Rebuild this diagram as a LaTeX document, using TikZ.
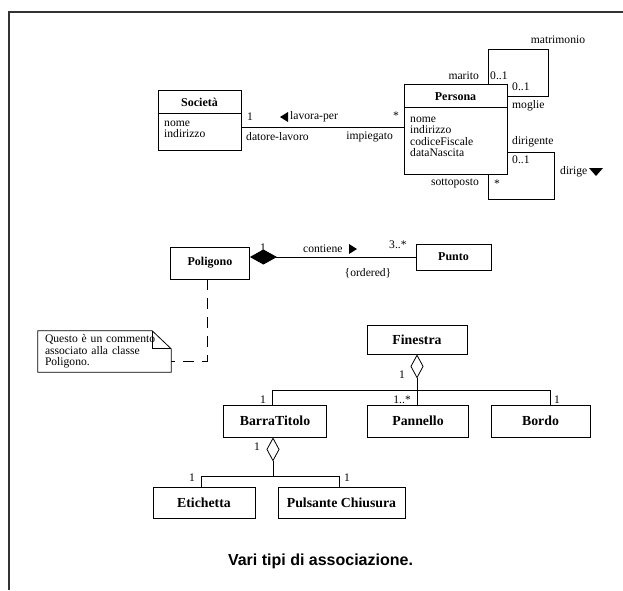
\documentclass[tikz,border=0pt]{standalone}
\usepackage{fontspec}
\setmainfont{Liberation Serif}
\newfontfamily\captionsans{Liberation Sans}
\usetikzlibrary{arrows.meta}
\begin{document}
\begin{tikzpicture}[x=1pt,y=-1pt,
  every node/.style={inner sep=0pt, font=\fontsize{11.6}{11.5}\selectfont},
  classbox/.style={draw, line width=0.8pt, rectangle},
  ctitle/.style={font=\fontsize{12}{14}\selectfont\bfseries},
  btitle/.style={font=\fontsize{13.8}{15}\selectfont\bfseries},
  attrs/.style={align=left, anchor=north west, font=\fontsize{11.6}{11.3}\selectfont},
  assoc/.style={line width=0.8pt},
  compose/.style={line width=0.8pt, {Diamond[length=27pt,width=15pt]}-},
  aggregate/.style={line width=0.8pt, {Diamond[open,length=24pt,width=13pt]}-},
  notelink/.style={line width=0.8pt, dash pattern=on 11pt off 8pt},
  frame/.style={line width=1.4pt, draw=black!80}
]
\useasboundingbox (0,0) rectangle (623,590);

% outer frame
\draw[frame] (9,590) -- (9,12) -- (623,12);

% ---------- Societa ----------
\node[classbox, minimum width=83pt, minimum height=60pt] (soc) at (199.5,120) {};
\draw[assoc] ([yshift=-24pt]soc.north west) -- ([yshift=-24pt]soc.north east);
\node[ctitle] (soctitle) at (199.5,102) {Società};
\node[attrs] (socattr) at (164,121) {nome\\indirizzo};

% ---------- Persona ----------
\node[classbox, minimum width=103pt, minimum height=90pt] (per) at (455.5,129) {};
\draw[assoc] ([yshift=-24pt]per.north west) -- ([yshift=-24pt]per.north east);
\node[ctitle] (pertitle) at (455.5,97) {Persona};
\node[attrs] (perattr) at (410,117) {nome\\indirizzo\\codiceFiscale\\dataNascita};

% lavora-per association
\draw[assoc] ([yshift=-7pt]soc.east) -- ([yshift=-7pt]soc.east -| per.west);
\node (m1) at (250,117) {1};
\fill (288,112) -- (288,122) -- (280,117) -- cycle;
\node[anchor=west] (lp) at (290,117) {lavora-per};
\node (m2) at (396,116) {*};
\node[anchor=west] (dl) at (246,137) {datore-lavoro};
\node[anchor=east] (imp) at (393,137) {impiegato};

% matrimonio self association
\draw[assoc] ([xshift=-19pt]per.north east) |- (548,49) |- ([yshift=-13pt]per.north east);
\node (matr) at (558,40) {matrimonio};
\node[anchor=east] (mar) at (479,76) {marito};
\node[anchor=west] (mm1) at (490,76) {0..1};
\node[anchor=west] (mm2) at (512,87) {0..1};
\node[anchor=west] (mog) at (512,106) {moglie};

% dirige self association
\draw[assoc] ([xshift=-19pt]per.south east) |- (554,199) |- ([yshift=22pt]per.south east);
\node[anchor=west] (dirig) at (512,142) {dirigente};
\node[anchor=west] (dm1) at (512,160) {0..1};
\node[anchor=west] (dir) at (560,172) {dirige};
\fill (589,168) -- (603,168) -- (596,176) -- cycle;
\node[anchor=east] (sott) at (479,183) {sottoposto};
\node (dm2) at (497,184) {*};

% ---------- Poligono / Punto ----------
\node[classbox, minimum width=79pt, minimum height=32pt, ctitle] (pol) at (210,263) {Poligono};
\node[classbox, minimum width=75pt, minimum height=26pt, ctitle] (pun) at (453.5,257) {Punto};
\draw[compose] (pun.west -| pol.east) -- (pun.west);
\node (pm1) at (263,248) {1};
\node[anchor=west] (cont) at (303,249) {contiene};
\fill (349,244) -- (349,254) -- (357,249) -- cycle;
\node[anchor=west] (pm2) at (389,245) {3..*};
\node (ord) at (368,273) {\{ordered\}};

% comment note
\node[minimum width=133pt, minimum height=41pt, text width=119pt, align=left,
      font=\fontsize{11.6}{11.3}\selectfont] (note) at (104.5,351.5)
      {Questo è un commento\\associato alla classe\\Poligono.};
\draw[assoc] (note.north west) -- ([xshift=-19pt]note.north east)
  -- ([yshift=-18pt]note.north east) -- (note.south east) -- (note.south west) -- cycle;
\draw[assoc] ([xshift=-19pt]note.north east) |- ([yshift=-18pt]note.north east);
\draw[notelink] ([xshift=-3pt]pol.south) |- ([yshift=-9.5pt]note.east);

% ---------- Finestra aggregation ----------
\node[classbox, minimum width=100pt, minimum height=29pt, btitle] (fin) at (417,339.5) {Finestra};
\node[classbox, minimum width=103pt, minimum height=32pt, btitle] (bar) at (275,421) {BarraTitolo};
\node[classbox, minimum width=101pt, minimum height=32pt, btitle] (pan) at (418,421) {Pannello};
\node[classbox, minimum width=99pt, minimum height=32pt, btitle] (bor) at (540.5,421) {Bordo};
\coordinate (fj) at (417,390);
\draw[aggregate] (fin.south) -- (fj);
\draw[assoc] ([xshift=-3pt]bar.north) |- (fj) -| ([xshift=9.5pt]bor.north);
\draw[assoc] (fj) -- (fj |- pan.north);
\node (fm0) at (402,375) {1};
\node (fm1) at (263,400) {1};
\node[anchor=east] (fm2) at (411,400) {1..*};
\node (fm3) at (557,400) {1};

% ---------- BarraTitolo aggregation ----------
\node[classbox, minimum width=102pt, minimum height=31pt, btitle] (eti) at (204,502.5) {Etichetta};
\node[classbox, minimum width=127pt, minimum height=31pt, btitle] (pul) at (341.5,502.5) {Pulsante Chiusura};
\coordinate (bj) at (273,476);
\draw[aggregate] (bar.south -| bj) -- (bj);
\draw[assoc] ([xshift=-3pt]eti.north) |- (bj) -| ([xshift=-2.5pt]pul.north);
\node (bm0) at (257,447) {1};
\node (bm1) at (192,478) {1};
\node (bm2) at (347,478) {1};

% caption
\node[font=\captionsans\bfseries\fontsize{16}{19}\selectfont] (cap) at (320.5,561) {Vari tipi di associazione.};
\end{tikzpicture}
\end{document}
